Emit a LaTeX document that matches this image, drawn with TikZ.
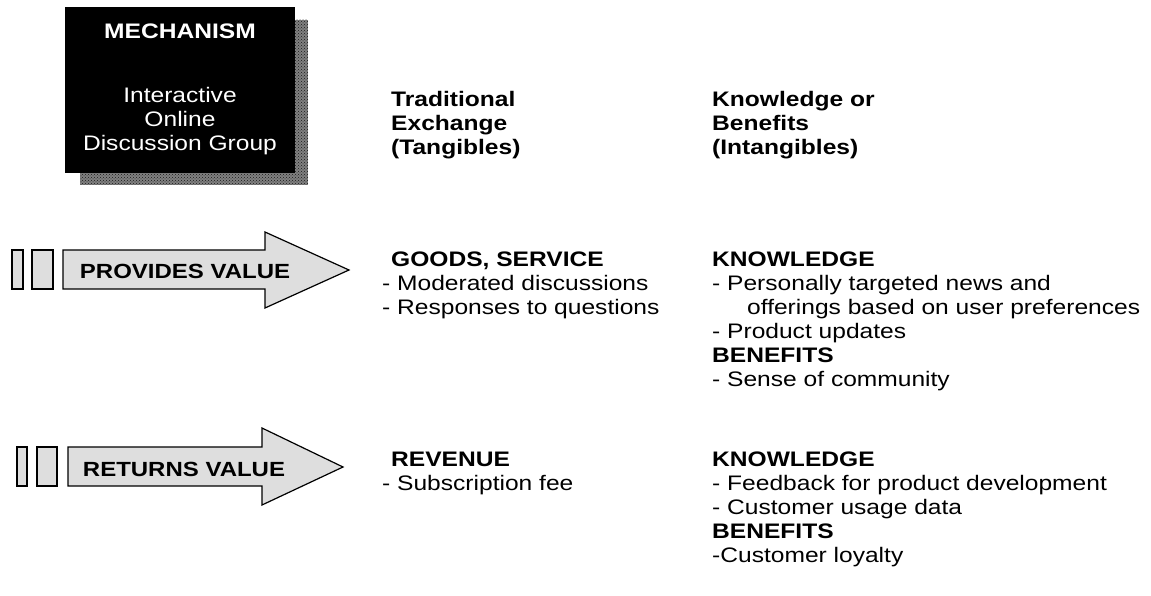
\documentclass[tikz,border=0pt]{standalone}
\usepackage{fontspec}
\setmainfont{Liberation Sans}[FakeStretch=1.17]
\usetikzlibrary{patterns}
\begin{document}
\begin{tikzpicture}[x=1pt,y=-1pt,
  txt/.style={inner sep=0pt, anchor=base west, font=\fontsize{21}{24}\selectfont},
  hd/.style={inner sep=0pt, anchor=base west, font=\fontsize{21}{24}\selectfont\bfseries},
  wtxt/.style={inner sep=0pt, anchor=base, text=white, font=\fontsize{21}{24}\selectfont},
  whd/.style={wtxt, font=\fontsize{21}{24}\selectfont\bfseries},
  arrlabel/.style={inner sep=0pt, anchor=base, font=\fontsize{20.5}{24}\selectfont\bfseries},
  arr/.style={draw=black, line width=1.2pt, fill=black!13, line join=miter},
  shadowfill/.style={fill=black!50, postaction={pattern=crosshatch dots, pattern color=black!90}},
]
\path[use as bounding box] (0,0) rectangle (1151,596);

% mechanism box with shadow
\path[shadowfill] (80,20) rectangle (308,185);
\node[fill=black, inner sep=0pt, minimum width=230pt, minimum height=166pt, anchor=north west] (mech) at (65,7) {};
\node[whd] (m0) at (180,39) {MECHANISM};
\node[wtxt] (m1) at (180,103) {Interactive};
\node[wtxt] (m2) at (180,127) {Online};
\node[wtxt] (m3) at (180,151) {Discussion Group};

% column headers
\node[hd] (t1) at (391,107) {Traditional};
\node[hd] (t2) at (391,131) {Exchange};
\node[hd] (t3) at (391,155) {(Tangibles)};
\node[hd] (k1) at (712,107) {Knowledge or};
\node[hd] (k2) at (712,131) {Benefits};
\node[hd] (k3) at (712,155) {(Intangibles)};

% provides value arrow
\path[arr] (12,250) rectangle (23,289);
\path[arr] (32,250) rectangle (53,289);
\path[arr] (63,250) -- (265,250) -- (265,232) -- (349,270) -- (265,308) -- (265,289) -- (63,289) -- cycle;
\node[arrlabel] (pv) at (185,278) {PROVIDES VALUE};

% returns value arrow
\path[arr] (17,447) rectangle (27,486);
\path[arr] (37,447) rectangle (57,486);
\path[arr] (68,447) -- (262,447) -- (262,428) -- (343,467) -- (262,505) -- (262,486) -- (68,486) -- cycle;
\node[arrlabel] (rv) at (184,476) {RETURNS VALUE};

% provides block
\node[hd]  (g1) at (391,266) {GOODS, SERVICE};
\node[txt] (g2) at (382,290) {- Moderated discussions};
\node[txt] (g3) at (382,314) {- Responses to questions};
\node[hd]  (p1) at (712,266) {KNOWLEDGE};
\node[txt] (p2) at (712,290) {- Personally targeted news and};
\node[txt] (p3) at (747,314) {offerings based on user preferences};
\node[txt] (p4) at (712,338) {- Product updates};
\node[hd]  (p5) at (712,362) {BENEFITS};
\node[txt] (p6) at (712,386) {- Sense of community};

% returns block
\node[hd]  (r1) at (391,466) {REVENUE};
\node[txt] (r2) at (382,490) {- Subscription fee};
\node[hd]  (q1) at (712,466) {KNOWLEDGE};
\node[txt] (q2) at (712,490) {- Feedback for product development};
\node[txt] (q3) at (712,514) {- Customer usage data};
\node[hd]  (q4) at (712,538) {BENEFITS};
\node[txt] (q5) at (712,562) {-Customer loyalty};
\end{tikzpicture}
\end{document}
